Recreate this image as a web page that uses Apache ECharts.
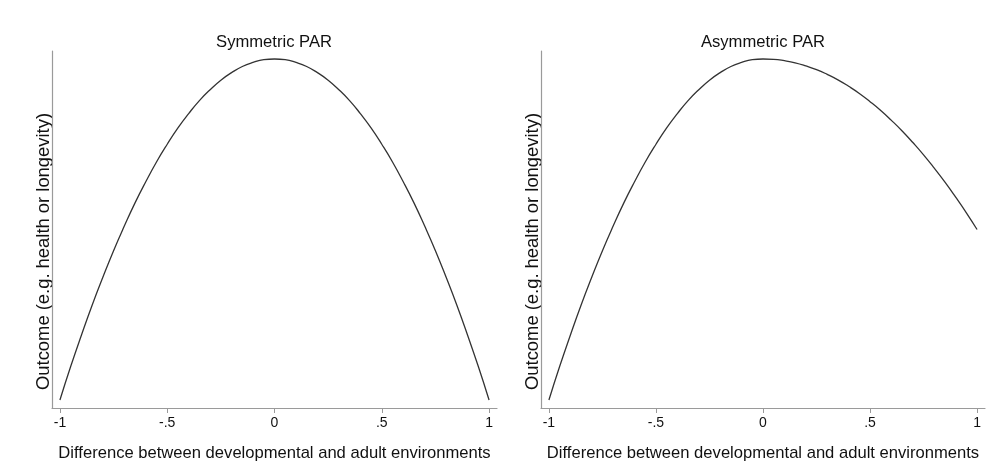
<!DOCTYPE html>
<html>
<head>
<meta charset="utf-8">
<script src="https://cdn.jsdelivr.net/npm/echarts@6/dist/echarts.min.js"></script>
<style>
    html, body {margin: 0; padding: 0; background: #fff;}
    #chart {width: 997px; height: 469px;}
</style>
</head>
<body>
<div id="chart"></div>
<script>
    // x positions of the sampled curve points
    const xValues = [-1, -0.95, -0.9, -0.85, -0.8, -0.75, -0.7, -0.65, -0.6, -0.55, -0.5,
        -0.45, -0.4, -0.35, -0.3, -0.25, -0.2, -0.15, -0.1, -0.05, 0,
        0.05, 0.1, 0.15, 0.2, 0.25, 0.3, 0.35, 0.4, 0.45, 0.5,
        0.55, 0.6, 0.65, 0.7, 0.75, 0.8, 0.85, 0.9, 0.95, 1]

    // left panel: symmetric curve
    const symmetricValues = [0, 0.098, 0.19, 0.278, 0.36, 0.438, 0.51, 0.578, 0.64, 0.698, 0.75,
        0.798, 0.84, 0.878, 0.91, 0.938, 0.96, 0.978, 0.99, 0.998, 1,
        0.998, 0.99, 0.978, 0.96, 0.938, 0.91, 0.878, 0.84, 0.798, 0.75,
        0.698, 0.64, 0.578, 0.51, 0.438, 0.36, 0.278, 0.19, 0.098, 0]

    // right panel: asymmetric curve
    const asymmetricValues = [0, 0.098, 0.19, 0.278, 0.36, 0.438, 0.51, 0.578, 0.64, 0.698, 0.75,
        0.798, 0.84, 0.878, 0.91, 0.938, 0.96, 0.978, 0.99, 0.998, 1,
        0.999, 0.995, 0.989, 0.98, 0.969, 0.955, 0.939, 0.92, 0.899, 0.875,
        0.849, 0.82, 0.789, 0.755, 0.719, 0.68, 0.639, 0.595, 0.549, 0.5]

    const xTicks = [-1, -0.5, 0, 0.5, 1]
    const xTickLabels = ['-1', '-.5', '0', '.5', '1']
    const panelTitles = ['Symmetric PAR', 'Asymmetric PAR']
    const xName = 'Difference between developmental and adult environments'
    const yName = 'Outcome (e.g. health or longevity)'

    const FONT = '"Liberation Sans", Arial, Helvetica, sans-serif'
    const AXIS_COLOR = '#9a9a9a'
    const TEXT_COLOR = '#111'

    const grids = [
        {left: 52, right: 500, top: 51, bottom: 61},
        {left: 541, right: 12, top: 51, bottom: 61}
    ]
    const titleCenters = [269, 758]

    function makeX(i) {
        return {
            type: 'value',
            gridIndex: i,
            min: -1.037,
            max: 1.037,
            name: xName,
            nameLocation: 'middle',
            nameGap: 37,
            nameTextStyle: {fontFamily: FONT, fontSize: 16.6, color: TEXT_COLOR},
            axisLine: {show: true, onZero: false, lineStyle: {color: AXIS_COLOR, width: 1.2}},
            axisTick: {show: true, customValues: xTicks, length: 5, lineStyle: {color: AXIS_COLOR}},
            axisLabel: {
                show: true,
                customValues: xTicks,
                margin: 8,
                fontFamily: FONT,
                fontSize: 14,
                color: TEXT_COLOR,
                formatter(v) {
                    let idx = xTicks.findIndex(t => Math.abs(t - v) < 1e-9)
                    return idx >= 0 ? xTickLabels[idx] : ''
                }
            },
            splitLine: {show: false}
        }
    }

    function makeY(i) {
        return {
            type: 'value',
            gridIndex: i,
            min: -0.0235,
            max: 1.0235,
            name: yName,
            nameLocation: 'middle',
            nameGap: -1,
            // 名称整体比绘图区中心略低
            nameTextStyle: {fontFamily: FONT, fontSize: 18.4, color: TEXT_COLOR, padding: [0, 44, 0, 0]},
            axisLine: {show: true, onZero: false, lineStyle: {color: AXIS_COLOR, width: 1.2}},
            axisTick: {show: false},
            axisLabel: {show: false},
            splitLine: {show: false}
        }
    }

    function makeSeries(i, values) {
        return {
            type: 'line',
            xAxisIndex: i,
            yAxisIndex: i,
            data: xValues.map((x, k) => [x, values[k]]),
            smooth: true,
            showSymbol: false,
            lineStyle: {color: '#333', width: 1.3},
            animation: false
        }
    }

    const chart = echarts.init(document.getElementById('chart'))
    chart.setOption({
        backgroundColor: '#fff',
        animation: false,
        title: panelTitles.map((t, i) => ({
            text: t,
            left: titleCenters[i],
            top: 29,
            textAlign: 'center',
            textStyle: {fontFamily: FONT, fontSize: 16.6, fontWeight: 'normal', color: TEXT_COLOR}
        })),
        grid: grids,
        xAxis: [makeX(0), makeX(1)],
        yAxis: [makeY(0), makeY(1)],
        series: [makeSeries(0, symmetricValues), makeSeries(1, asymmetricValues)]
    })
</script>
</body>
</html>
